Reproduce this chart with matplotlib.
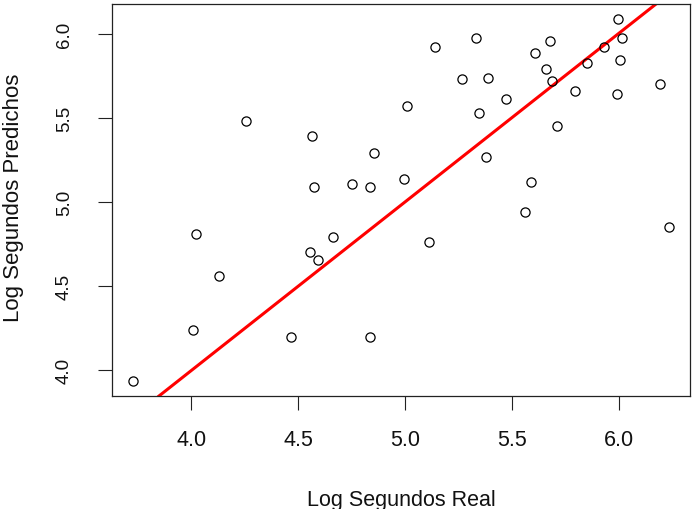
import matplotlib
matplotlib.use('Agg')
import matplotlib.pyplot as plt

# log seconds, real vs predicted
real = [4.253, 4.566, 4.855, 4.572, 4.751, 4.835,
        5.999, 5.142, 5.331, 5.678, 6.014, 5.610, 5.930, 5.660, 5.854,
        6.007, 5.265, 5.389, 5.686, 6.192, 5.798, 5.991, 5.009, 5.471,
        5.347, 5.713, 5.381, 4.994, 5.590,
        4.023, 4.663, 4.557, 4.593, 4.131, 4.005, 4.468, 4.835, 3.728,
        5.112, 5.563, 6.234]
predicted = [5.479, 5.392, 5.293, 5.089, 5.109, 5.089,
             6.089, 5.921, 5.974, 5.957, 5.972, 5.885, 5.921, 5.788, 5.824,
             5.841, 5.727, 5.737, 5.719, 5.699, 5.657, 5.638, 5.568, 5.612,
             5.531, 5.453, 5.265, 5.134, 5.119,
             4.807, 4.790, 4.703, 4.657, 4.558, 4.241, 4.200, 4.200, 3.934,
             4.762, 4.941, 4.851]
ticks = [4.0, 4.5, 5.0, 5.5, 6.0]

plt.rcParams['font.family'] = ['Liberation Sans', 'DejaVu Sans']

fig = plt.figure(figsize=(6.93, 5.10), dpi=100)
ax = fig.add_axes([112 / 693, 1 - 397 / 510, 578 / 693, 392 / 510])

ax.plot(real, predicted, 'o', markersize=6.6, markerfacecolor='none',
        markeredgecolor='black', markeredgewidth=0.9, zorder=3)
ax.axline((4.0, 4.0), slope=1, color='red', linewidth=2.2, zorder=2)

# R style 4% padding
xr = max(real) - min(real)
yr = max(predicted) - min(predicted)
ax.set_xlim(min(real) - 0.04 * xr, max(real) + 0.04 * xr)
ax.set_ylim(min(predicted) - 0.04 * yr, max(predicted) + 0.04 * yr)

ax.set_xticks(ticks)
ax.set_yticks(ticks)
ax.set_xticklabels(['%.1f' % t for t in ticks])
ax.set_yticklabels(['%.1f' % t for t in ticks], rotation=90, va='center')
ax.tick_params(axis='both', direction='out', length=10, width=0.8,
               colors='#222222', labelcolor='#111111')
ax.tick_params(axis='x', pad=14, labelsize=15.5)
ax.tick_params(axis='y', pad=18, labelsize=13.5)
for s in ax.spines.values():
    s.set_linewidth(0.9)
    s.set_color('#222222')

ax.set_xlabel('Log Segundos Real', fontsize=15.5, labelpad=28, color='#111111')
fig.text(14 / 693, 1 - 198 / 510, 'Log Segundos Predichos', rotation=90,
         ha='center', va='center', fontsize=16, color='#111111')

fig.savefig('out.png', dpi=100)
